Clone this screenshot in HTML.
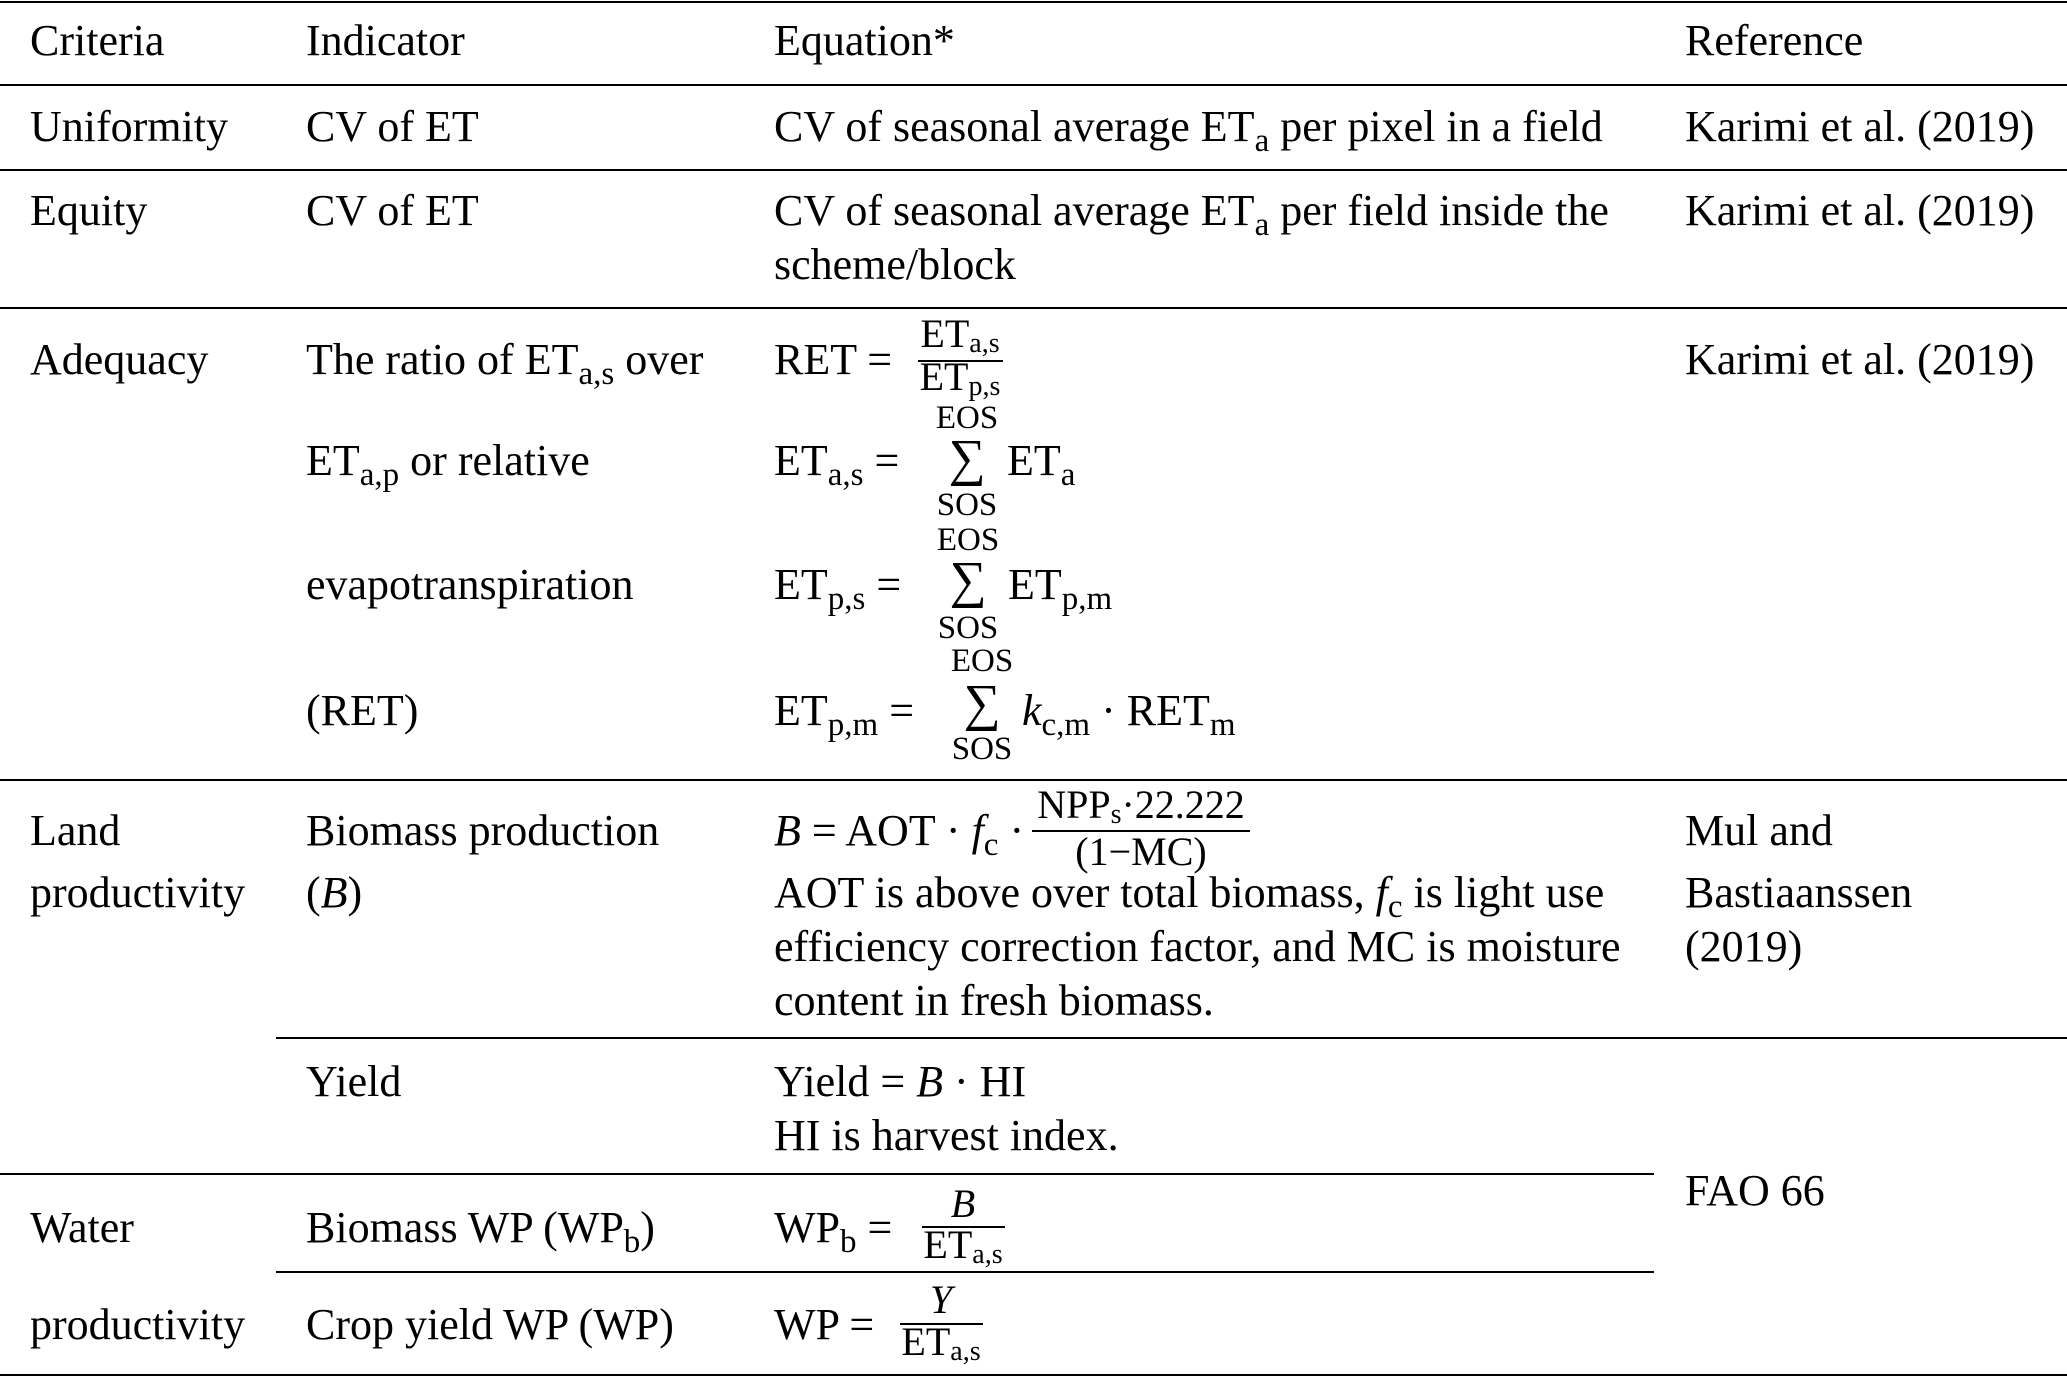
<!DOCTYPE html>
<html><head><meta charset="utf-8"><style>
html,body{margin:0;padding:0;background:#fff}
body{width:2067px;height:1378px;position:relative;overflow:hidden;font-family:"Liberation Serif",serif;color:#000}
#c{position:absolute;left:0;top:3px;width:2067px;height:1375px}
.t{position:absolute;font-size:44px;line-height:44px;white-space:nowrap}
.s{position:absolute;font-size:33px;line-height:33px;white-space:nowrap}
.f{position:absolute;font-size:40px;line-height:40px;white-space:nowrap}
.g{position:absolute;font-size:52px;line-height:52px;white-space:nowrap}
.l{position:absolute;height:2px;background:#000}
.b{position:absolute;height:2px;background:#000}
sub{font-size:33px;vertical-align:-10px;line-height:0}
.s sub,.f sub{font-size:28px;vertical-align:-5px}
i{font-style:italic}
.c{text-align:center;transform:translateX(-50%)}
</style></head><body>
<div class="l" style="top:1px;left:0;width:2067px"></div>
<div class="l" style="top:84px;left:0;width:2067px"></div>
<div class="l" style="top:169px;left:0;width:2067px"></div>
<div class="l" style="top:307px;left:0;width:2067px"></div>
<div class="l" style="top:779px;left:0;width:2067px"></div>
<div class="l" style="top:1037px;left:276px;width:1791px"></div>
<div class="l" style="top:1173px;left:0;width:1654px"></div>
<div class="l" style="top:1271px;left:276px;width:1378px"></div>
<div class="l" style="top:1374px;left:0;width:2067px"></div>
<div class="b" style="left:918px;top:360px;width:85px"></div>
<div class="b" style="left:1032px;top:830px;width:218px"></div>
<div class="b" style="left:922px;top:1226px;width:83px"></div>
<div class="b" style="left:900px;top:1323px;width:83px"></div>

<div id="c">
<div class="t" style="left:30px;top:16px">Criteria</div>
<div class="t" style="left:306px;top:16px">Indicator</div>
<div class="t" style="left:774px;top:16px">Equation*</div>
<div class="t" style="left:1685px;top:16px">Reference</div>

<div class="t" style="left:30px;top:102px">Uniformity</div>
<div class="t" style="left:306px;top:102px">CV of ET</div>
<div class="t" style="left:774px;top:102px">CV of seasonal average ET<sub>a</sub> per pixel in a field</div>
<div class="t" style="left:1685px;top:102px">Karimi et al. (2019)</div>

<div class="t" style="left:30px;top:186px">Equity</div>
<div class="t" style="left:306px;top:186px">CV of ET</div>
<div class="t" style="left:774px;top:186px">CV of seasonal average ET<sub>a</sub> per field inside the</div>
<div class="t" style="left:774px;top:240px">scheme/block</div>
<div class="t" style="left:1685px;top:186px">Karimi et al. (2019)</div>

<div class="t" style="left:30px;top:335px">Adequacy</div>
<div class="t" style="left:306px;top:335px">The ratio of ET<sub>a,s</sub> over</div>
<div class="t" style="left:306px;top:436px">ET<sub>a,p</sub> or relative</div>
<div class="t" style="left:306px;top:560px">evapotranspiration</div>
<div class="t" style="left:306px;top:686px">(RET)</div>
<div class="t" style="left:1685px;top:335px">Karimi et al. (2019)</div>

<div class="t" style="left:774px;top:335px">RET =</div>
<div class="f c" style="left:960px;top:311px">ET<sub>a,s</sub></div>
<div class="f c" style="left:960px;top:354px">ET<sub>p,s</sub></div>

<div class="t" style="left:774px;top:436px">ET<sub>a,s</sub> =</div>
<div class="s c" style="left:967px;top:399px">EOS</div>
<div class="g c" style="left:967px;top:430px">∑</div>
<div class="s c" style="left:967px;top:486px">SOS</div>
<div class="t" style="left:1007px;top:436px">ET<sub>a</sub></div>

<div class="t" style="left:774px;top:560px">ET<sub>p,s</sub> =</div>
<div class="s c" style="left:968px;top:521px">EOS</div>
<div class="g c" style="left:968px;top:552px">∑</div>
<div class="s c" style="left:968px;top:609px">SOS</div>
<div class="t" style="left:1008px;top:560px">ET<sub>p,m</sub></div>

<div class="t" style="left:774px;top:686px">ET<sub>p,m</sub> =</div>
<div class="s c" style="left:982px;top:642px">EOS</div>
<div class="g c" style="left:982px;top:675px">∑</div>
<div class="s c" style="left:982px;top:730px">SOS</div>
<div class="t" style="left:1022px;top:686px"><i>k</i><sub>c,m</sub> · RET<sub>m</sub></div>

<div class="t" style="left:30px;top:806px">Land</div>
<div class="t" style="left:30px;top:868px">productivity</div>
<div class="t" style="left:306px;top:806px">Biomass production</div>
<div class="t" style="left:306px;top:868px">(<i>B</i>)</div>
<div class="t" style="left:774px;top:806px"><i>B</i> = AOT · <i>f</i><sub>c</sub> ·</div>
<div class="f c" style="left:1141px;top:782px">NPP<sub>s</sub>·22.222</div>
<div class="f c" style="left:1141px;top:829px">(1−MC)</div>
<div class="t" style="left:774px;top:868px">AOT is above over total biomass, <i>f</i><sub>c</sub> is light use</div>
<div class="t" style="left:774px;top:922px">efficiency correction factor, and MC is moisture</div>
<div class="t" style="left:774px;top:976px">content in fresh biomass.</div>
<div class="t" style="left:1685px;top:806px">Mul and</div>
<div class="t" style="left:1685px;top:868px">Bastiaanssen</div>
<div class="t" style="left:1685px;top:922px">(2019)</div>

<div class="t" style="left:306px;top:1057px">Yield</div>
<div class="t" style="left:774px;top:1057px">Yield = <i>B</i> · HI</div>
<div class="t" style="left:774px;top:1111px">HI is harvest index.</div>

<div class="t" style="left:1685px;top:1166px">FAO 66</div>

<div class="t" style="left:30px;top:1203px">Water</div>
<div class="t" style="left:30px;top:1300px">productivity</div>
<div class="t" style="left:306px;top:1203px">Biomass WP (WP<sub>b</sub>)</div>
<div class="t" style="left:306px;top:1300px">Crop yield WP (WP)</div>
<div class="t" style="left:774px;top:1203px">WP<sub>b</sub> =</div>
<div class="f c" style="left:963px;top:1181px"><i>B</i></div>
<div class="f c" style="left:963px;top:1222px">ET<sub>a,s</sub></div>
<div class="t" style="left:774px;top:1300px">WP =</div>
<div class="f c" style="left:941px;top:1277px"><i>Y</i></div>
<div class="f c" style="left:941px;top:1319px">ET<sub>a,s</sub></div>
</div>
</body></html>
